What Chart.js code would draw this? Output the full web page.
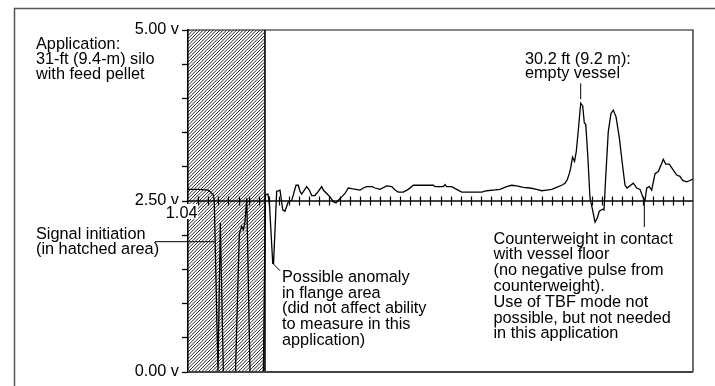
<!DOCTYPE html>
<html>
<head>
<meta charset="utf-8">
<script src="https://cdn.jsdelivr.net/npm/chart.js@4.4.1/dist/chart.umd.min.js"></script>
<style>
  html, body { margin: 0; padding: 0; background: #fff; }
  #wrap { width: 715px; height: 386px; }
</style>
</head>
<body>
<div id="wrap"><canvas id="chart" width="715" height="386"></canvas></div>
<script>
// ------------------------------------------------------------
//  Echo trace
//  x: horizontal divisions (0..50), y: volts (0..5)
// ------------------------------------------------------------
const sigX = [
  0, 1.02, 2.01, 2.5, 2.6, 2.97, 3.2, 3.5, 4.7, 5.08, 5.32, 5.48, 5.64, 5.82, 6.14, 7.46,
  7.67, 7.92, 8.07, 8.39, 8.47, 8.78, 9.11, 9.38, 9.6, 9.93, 10.27, 10.43, 10.69, 10.92,
  11.09, 11.26, 11.75, 12.01, 12.25, 12.57, 12.9, 13.24, 13.4, 13.73, 14.06, 14.39, 14.65,
  14.88, 15.22, 15.54, 15.87, 16.21, 17.03, 17.36, 17.69, 18.22, 18.51, 19.01, 19.67,
  20.17, 20.5, 20.82, 21.32, 21.81, 22.31, 24.29, 24.46, 25.28, 25.45, 25.61, 26.11,
  26.6, 27.1, 29.08, 29.57, 30.23, 30.89, 31.55, 32.05, 32.54, 33.2, 33.86, 34.52,
  35.02, 35.51, 36.01, 36.5, 37, 37.33, 37.55, 37.75, 37.89, 38.07, 38.27, 38.44,
  38.66, 38.88, 39.08, 39.24, 39.38, 39.58, 39.8, 40.03, 40.3, 40.52, 40.72, 41.06,
  41.19, 41.35, 41.61, 41.88, 42.11, 42.38, 42.71, 43.04, 43.27, 43.47, 44.09, 44.43,
  44.75, 45.08, 45.25, 45.42, 45.67, 45.91, 46.24, 46.56, 46.9, 47.06, 47.3, 47.65,
  48.05, 48.38, 48.71, 48.98, 49.37, 49.7, 49.97
];
const sigY = [
  2.67, 2.67, 2.66, 2.59, 2.51, 0, 2.18, 0, 0, 2.02, 2.13, 2.08, 2.19, 2.54, 0, 0,
  2.59, 2.6, 2.44, 1.59, 1.59, 2.64, 2.66, 2.37, 2.35, 2.49, 2.51, 2.59, 2.73, 2.73,
  2.64, 2.6, 2.71, 2.66, 2.58, 2.58, 2.64, 2.71, 2.66, 2.61, 2.56, 2.49, 2.47,
  2.51, 2.56, 2.61, 2.69, 2.68, 2.66, 2.69, 2.71, 2.71, 2.69, 2.67, 2.72,
  2.71, 2.66, 2.63, 2.63, 2.67, 2.73, 2.73, 2.71, 2.71, 2.74, 2.71, 2.71,
  2.67, 2.63, 2.63, 2.65, 2.66, 2.67, 2.71, 2.73, 2.72, 2.7, 2.69, 2.67,
  2.65, 2.66, 2.67, 2.7, 2.73, 2.76, 2.81, 2.9, 2.98, 3.14, 3.08, 3.22,
  3.56, 3.93, 3.89, 3.64, 3.62, 3.17, 2.54, 2.39, 2.19, 2.25, 2.35, 2.38,
  2.37, 2.83, 3.51, 3.78, 3.83, 3.73, 3.42, 3.0, 2.73, 2.69, 2.76, 2.69,
  2.67, 2.54, 2.51, 2.69, 2.71, 2.66, 2.9, 2.93, 3.05, 3.11, 3.04, 3.04,
  2.95, 2.88, 2.86, 2.8, 2.78, 2.8, 2.82
];

// axes
const xMin = 0, xMax = 50;
const yMin = 0, yMax = 5, yStep = 0.5;
const yLabels = { 0: "0.00 v", 2.5: "2.50 v", 5: "5.00 v" };
const baseLevel = 2.5;
const baseTicks = [
  1, 2, 3, 4, 5, 6, 7, 8, 9, 10, 11, 12, 13, 14, 15, 16, 17, 18, 19, 20, 21, 22, 23, 24, 25,
  26, 27, 28, 29, 30, 31, 32, 33, 34, 35, 36, 37, 38, 39, 40, 41, 42, 43, 44, 45, 46, 47, 48, 49
];
const hatchEnd = 7.62;   // end of the hatched (blanking) zone
const gainLabel = "1.04";

const FONT = "'Liberation Sans', Arial, Helvetica, sans-serif";
const FSIZE = 16.3;

// text blocks (pixel layout) and leader lines (data coords)
const notes = [
  { x: 36, y: 48.5, lh: 15.3, lines: ["Application:", "31-ft (9.4-m) silo", "with feed pellet"] },
  { x: 36, y: 238.5, lh: 15.6, lines: ["Signal initiation", "(in hatched area)"] },
  { x: 282, y: 281.7, lh: 15.8, lines: ["Possible anomaly", "in flange area", "(did not affect ability", "to measure in this", "application)"] },
  { x: 525, y: 63.5, lh: 14.8, lines: ["30.2 ft (9.2 m):", "empty vessel"] },
  { x: 493.5, y: 243.5, lh: 15.8, lines: ["Counterweight in contact", "with vessel floor", "(no negative pulse from", "counterweight).", "Use of TBF mode not", "possible, but not needed", "in this application"] }
];
const leaders = [
  [-3.27, 1.905, 2.6, 1.905],
  [8.39, 1.59, 9.11, 1.48],
  [38.88, 4.22, 38.88, 3.99],
  [45.18, 2.5, 45.18, 2.12]
];

function hatchPattern() {
  const c = document.createElement("canvas");
  c.width = 10; c.height = 10;
  const g = c.getContext("2d");
  g.strokeStyle = "#000";
  g.lineWidth = 0.85;
  for (let i = -3; i <= 3; i++) {
    const o = i * 10 / 3;
    g.beginPath();
    g.moveTo(o - 1, 11);
    g.lineTo(o + 11, -1);
    g.stroke();
  }
  return g.createPattern(c, "repeat");
}

const decor = {
  id: "decor",
  afterDatasetsDraw(chart) {
    const { ctx, chartArea: a, scales: { x, y } } = chart;
    ctx.save();

    // outer frame (cropped: top + left only)
    ctx.strokeStyle = "#555";
    ctx.lineWidth = 1.5;
    ctx.beginPath();
    ctx.moveTo(14.5, 386); ctx.lineTo(14.5, 8.5); ctx.lineTo(715, 8.5);
    ctx.stroke();

    // plot box
    ctx.strokeStyle = "#111";
    ctx.lineWidth = 1.2;
    ctx.beginPath();
    ctx.moveTo(a.left, a.top); ctx.lineTo(a.right, a.top); ctx.lineTo(a.right, a.bottom);
    ctx.stroke();
    ctx.strokeStyle = "#444";
    ctx.lineWidth = 2;
    ctx.beginPath();
    ctx.moveTo(a.left, a.bottom); ctx.lineTo(a.right, a.bottom);
    ctx.stroke();

    // cross ticks on the 2.50 v base line
    const yb = y.getPixelForValue(baseLevel);
    ctx.strokeStyle = "#000";
    ctx.lineWidth = 1.2;
    ctx.beginPath();
    baseTicks.forEach(t => {
      const px = Math.round(x.getPixelForValue(t)) + 0.5;
      ctx.moveTo(px, yb - 4.5); ctx.lineTo(px, yb + 4.5);
    });
    ctx.stroke();

    // gain readout
    ctx.font = FSIZE + "px " + FONT;
    ctx.fillStyle = "#fff";
    ctx.fillRect(163, 204, 35, 15);
    ctx.fillStyle = "#000";
    ctx.textAlign = "right";
    ctx.textBaseline = "alphabetic";
    ctx.fillText(gainLabel, 197.5, 217.5);

    // leaders
    ctx.lineWidth = 1;
    ctx.beginPath();
    leaders.forEach(([x1, y1, x2, y2]) => {
      ctx.moveTo(x.getPixelForValue(x1), y.getPixelForValue(y1));
      ctx.lineTo(x.getPixelForValue(x2), y.getPixelForValue(y2));
    });
    ctx.stroke();

    // notes
    ctx.textAlign = "left";
    notes.forEach(n => n.lines.forEach((s, i) => ctx.fillText(s, n.x, n.y + i * n.lh)));

    ctx.restore();
  }
};

new Chart(document.getElementById("chart"), {
  type: "scatter",
  data: {
    datasets: [
      {
        data: sigX.map((v, i) => ({ x: v, y: sigY[i] })),
        showLine: true, borderColor: "#000", borderWidth: 1.3,
        pointRadius: 0, tension: 0, fill: false, order: 0
      },
      {
        data: [{ x: xMin, y: baseLevel }, { x: xMax, y: baseLevel }],
        showLine: true, borderColor: "#000", borderWidth: 1.7,
        pointRadius: 0, fill: false, order: 1
      },
      {
        data: [{ x: hatchEnd, y: yMin }, { x: hatchEnd, y: yMax }],
        showLine: true, borderColor: "#000", borderWidth: 1.6,
        pointRadius: 0, fill: false, order: 2
      },
      {
        data: [{ x: xMin, y: yMax }, { x: hatchEnd, y: yMax }],
        showLine: true, borderWidth: 0, borderColor: "rgba(0,0,0,0)",
        backgroundColor: hatchPattern(), pointRadius: 0, fill: "origin", order: 3
      }
    ]
  },
  options: {
    responsive: false,
    animation: false,
    devicePixelRatio: 1,
    events: [],
    layout: { padding: { left: 128, top: 30, right: 22, bottom: 14 } },
    plugins: { legend: { display: false }, tooltip: { enabled: false } },
    scales: {
      x: { type: "linear", min: xMin, max: xMax, display: false },
      y: {
        type: "linear", min: yMin, max: yMax,
        ticks: {
          stepSize: yStep, autoSkip: false, padding: 3, color: "#000",
          font: { family: FONT, size: FSIZE },
          callback: v => yLabels[v] ?? ""
        },
        grid: { drawOnChartArea: false, drawTicks: true, tickLength: 6, tickWidth: 1.3, tickColor: "#000" },
        border: { display: true, color: "#000", width: 1.6 },
        afterFit: s => { s.width = 60; s.paddingTop = 0; s.paddingBottom = 0; }
      }
    }
  },
  plugins: [decor]
});
</script>
</body>
</html>
